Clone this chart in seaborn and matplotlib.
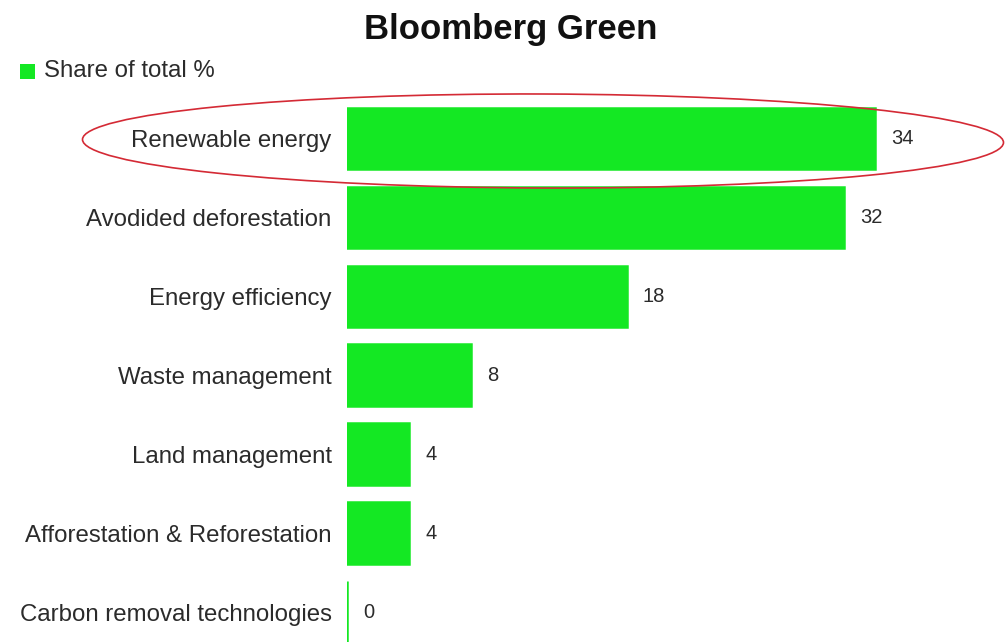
import matplotlib
matplotlib.use("Agg")
import matplotlib.pyplot as plt
from matplotlib.patches import Ellipse, Rectangle
import seaborn as sns
import pandas as pd

categories = ["Renewable energy", "Avodided deforestation", "Energy efficiency",
              "Waste management", "Land management",
              "Afforestation & Reforestation", "Carbon removal technologies"]
values = [34, 32, 18, 8, 4, 4, 0]
title = "Bloomberg Green"
legend_label = "Share of total %"

GREEN = "#14E823"
TEXT = "#2b2b2b"

sns.set_theme(style="white")
plt.rcParams['font.family'] = ['Liberation Sans', 'DejaVu Sans']

W, H = 1005, 642
fig = plt.figure(figsize=(W / 100, H / 100), dpi=100)
px_per_unit = 15.53
ax_left, ax_right = 347, 347 + 40 * px_per_unit
ax_top, ax_bottom = 98.5, 642
ax = fig.add_axes([ax_left / W, 1 - ax_bottom / H, (ax_right - ax_left) / W, (ax_bottom - ax_top) / H])

df = pd.DataFrame({"category": categories, "value": values})
sns.barplot(data=df, x="value", y="category", order=categories, orient="h",
            color=GREEN, saturation=1, width=0.78, errorbar=None, ax=ax)
for p in ax.patches:
    p.set_edgecolor(GREEN)
    p.set_linewidth(1.8)

ax.set_xlim(0, 40)
ax.set_ylim(6.38, -0.506)
ax.set_xlabel("")
ax.set_ylabel("")
ax.set_xticks([])
for s in ax.spines.values():
    s.set_visible(False)
ax.tick_params(axis="y", length=0, pad=11)
ax.set_yticks(range(len(categories)))
ax.set_yticklabels(categories, fontsize=17.3, color=TEXT)

for i, v in enumerate(values):
    ax.text(v + 16 / px_per_unit, i, f"{v}", va="center", ha="left", fontsize=14.5, color=TEXT)

fig.text(511 / W, 1 - 29 / H, title, ha="center", va="center", fontsize=25,
         fontweight="bold", color="#111111")

# legend
fig.patches.append(Rectangle((20 / W, 1 - 79 / H), 15 / W, 15 / H, transform=fig.transFigure,
                             facecolor=GREEN, edgecolor="none"))
fig.text(44 / W, 1 - 71 / H, legend_label, ha="left", va="center", fontsize=17.3, color=TEXT)

# red highlight ellipse
ell = Ellipse((543 / W, 1 - 141 / H), 921 / W, 94 / H, angle=-0.3, transform=fig.transFigure,
              facecolor="none", edgecolor="#d42a35", linewidth=1.2)
fig.patches.append(ell)

fig.savefig("out.png", dpi=100, facecolor="white")
